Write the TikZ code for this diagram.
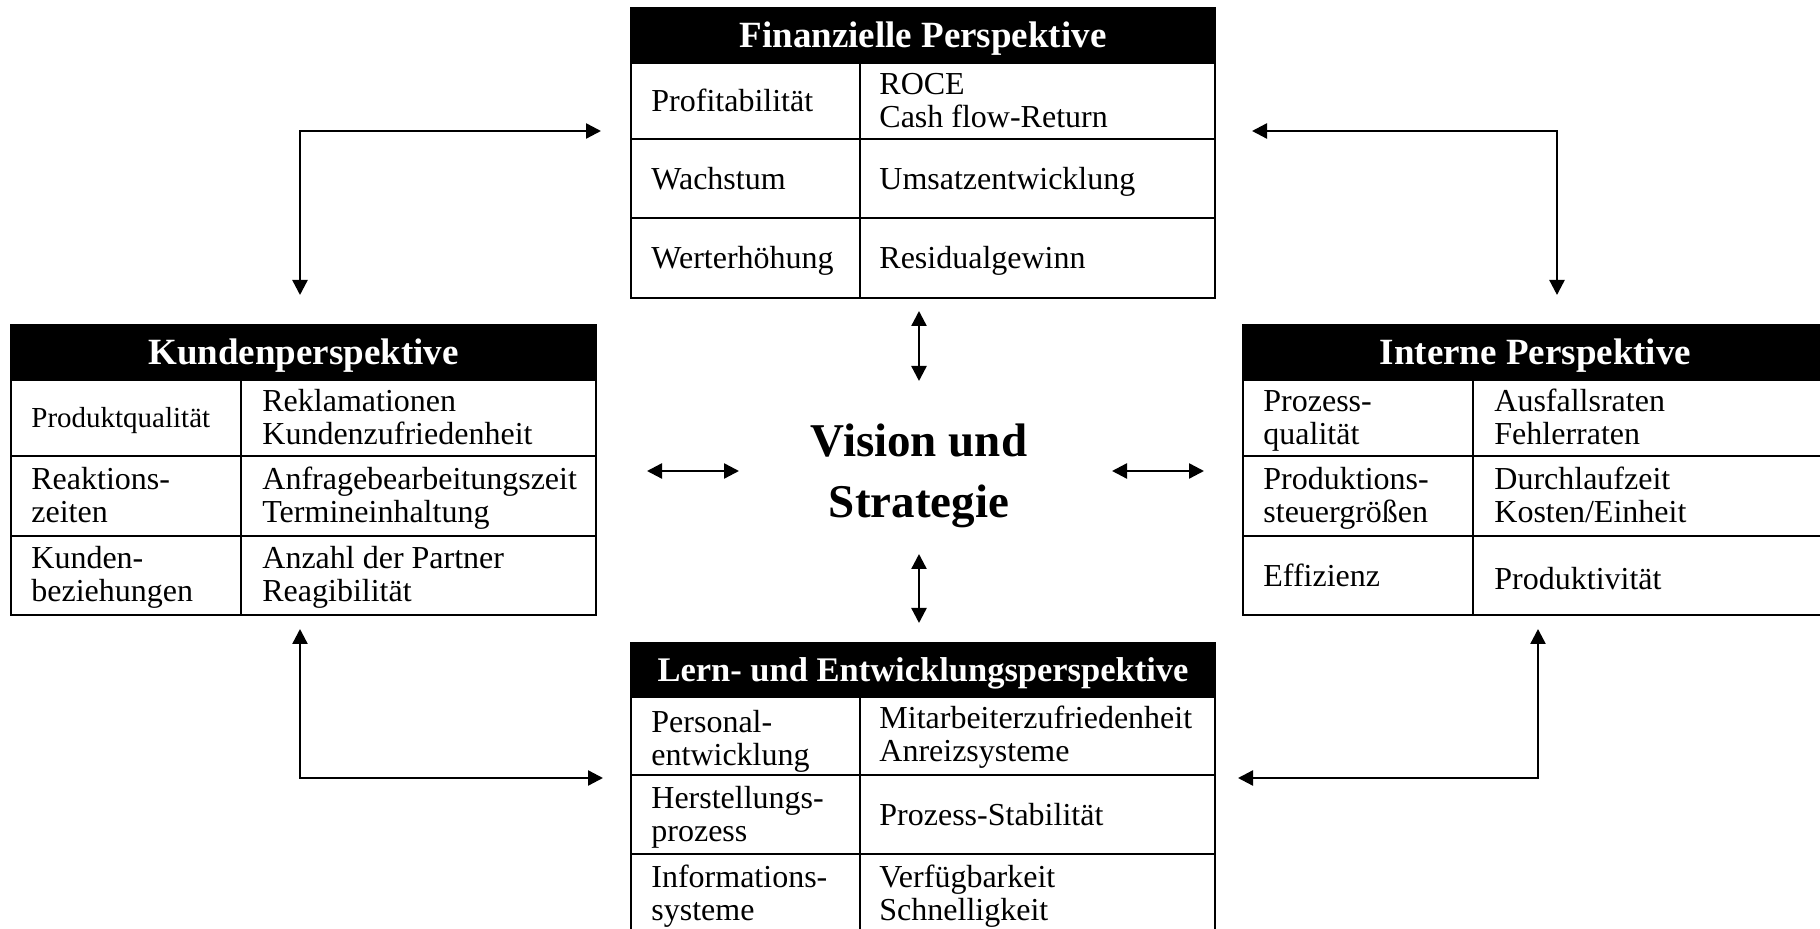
\documentclass[tikz,border=0pt]{standalone}
\usepackage{fontspec}
\setmainfont{Liberation Serif}
\usetikzlibrary{arrows.meta}
\newcommand\mystrut{\rule{0pt}{12pt}}
\begin{document}
\begin{tikzpicture}[x=0.5pt,y=-0.5pt,
  frame/.style={draw=black,line width=1.2pt},
  head/.style={fill=black,draw=black,line width=1.2pt},
  htext/.style={text=white,anchor=base,inner sep=0pt,font=\fontsize{18.5}{20}\selectfont\bfseries},
  cell/.style={anchor=north west,align=left,inner sep=0pt,font=\fontsize{16}{16.5}\selectfont},
  conn/.style={line width=1.2pt,arrows={Triangle[length=7.5pt,width=7.5pt]-Triangle[length=7.5pt,width=7.5pt]}},
]
\useasboundingbox (0,0) rectangle (1820,929);

% ---------- Finanzielle Perspektive ----------
\draw[head] (631,8) rectangle (1215,63);
\draw[frame] (631,8) rectangle (1215,298);
\draw[frame] (631,139) -- (1215,139) (631,218) -- (1215,218) (860,63) -- (860,298);
\node[htext] (fh) at (923,47.5) {Finanzielle Perspektive};
\node[cell] (f1l) at (651,87.5) {\mystrut Profitabilität};
\node[cell] (f1r) at (879,70) {\mystrut ROCE\\Cash flow-Return};
\node[cell] (f2l) at (651,165) {\mystrut Wachstum};
\node[cell] (f2r) at (879,165) {\mystrut Umsatzentwicklung};
\node[cell] (f3l) at (651,244.5) {\mystrut Werterhöhung};
\node[cell] (f3r) at (879,244.5) {\mystrut Residualgewinn};

% ---------- Kundenperspektive ----------
\draw[head] (11,325) rectangle (596,380);
\draw[frame] (11,325) rectangle (596,615);
\draw[frame] (11,456) -- (596,456) (11,536) -- (596,536) (241,380) -- (241,615);
\node[htext] (kh) at (303.5,364.5) {Kundenperspektive};
\node[cell,font=\fontsize{14.5}{15}\selectfont] (k1l) at (31,403.6) {\mystrut Produktqualität};
\node[cell] (k1r) at (262,387) {\mystrut Reklamationen\\Kundenzufriedenheit};
\node[cell] (k2l) at (31,465) {\mystrut Reaktions-\\zeiten};
\node[cell] (k2r) at (262,465) {\mystrut Anfragebearbeitungszeit\\Termineinhaltung};
\node[cell] (k3l) at (31,544.5) {\mystrut Kunden-\\beziehungen};
\node[cell] (k3r) at (262,544.5) {\mystrut Anzahl der Partner\\Reagibilität};

% ---------- Interne Perspektive ----------
\draw[head] (1243,325) rectangle (1828,380);
\draw[frame] (1243,325) rectangle (1828,615);
\draw[frame] (1243,456) -- (1828,456) (1243,536) -- (1828,536) (1473,380) -- (1473,615);
\node[htext] (ih) at (1535.5,364.5) {Interne Perspektive};
\node[cell] (i1l) at (1263,387) {\mystrut Prozess-\\qualität};
\node[cell] (i1r) at (1494,387) {\mystrut Ausfallsraten\\Fehlerraten};
\node[cell] (i2l) at (1263,465) {\mystrut Produktions-\\steuergrößen};
\node[cell] (i2r) at (1494,465) {\mystrut Durchlaufzeit\\Kosten/Einheit};
\node[cell] (i3l) at (1263,562) {\mystrut Effizienz};
\node[cell] (i3r) at (1494,565) {\mystrut Produktivität};

% ---------- Lern- und Entwicklungsperspektive ----------
\draw[head] (631,643) rectangle (1215,697);
\draw[frame] (631,643) rectangle (1215,940);
\draw[frame] (631,775) -- (1215,775) (631,854) -- (1215,854) (860,697) -- (860,940);
\node[htext,font=\fontsize{17.25}{19}\selectfont\bfseries] (lh) at (923,681.4) {Lern- und Entwicklungsperspektive};
\node[cell] (l1l) at (651,708) {\mystrut Personal-\\entwicklung};
\node[cell] (l1r) at (879,704) {\mystrut Mitarbeiterzufriedenheit\\Anreizsysteme};
\node[cell] (l2l) at (651,784.5) {\mystrut Herstellungs-\\prozess};
\node[cell] (l2r) at (879,801) {\mystrut Prozess-Stabilität};
\node[cell] (l3l) at (651,863.5) {\mystrut Informations-\\systeme};
\node[cell] (l3r) at (879,863.5) {\mystrut Verfügbarkeit\\Schnelligkeit};

% ---------- Vision und Strategie ----------
\node[font=\fontsize{23.5}{30.25}\selectfont\bfseries,align=center,inner sep=0pt] (vs) at (919,476) {Vision und\\Strategie};

% ---------- central arrows ----------
\coordinate (vt1) at (919,311); \coordinate (vt2) at (919,381);
\coordinate (vb1) at (919,554); \coordinate (vb2) at (919,623);
\coordinate (hl1) at (647,471); \coordinate (hl2) at (739,471);
\coordinate (hr1) at (1112,471); \coordinate (hr2) at (1204,471);
\draw[conn] (vt1) -- (vt2);
\draw[conn] (vb1) -- (vb2);
\draw[conn] (hl1) -- (hl2);
\draw[conn] (hr1) -- (hr2);

% ---------- corner arrows ----------
\coordinate (tlA) at (601,131); \coordinate (tlB) at (300,295);
\coordinate (trA) at (1252,131); \coordinate (trB) at (1557,295);
\coordinate (blA) at (300,629); \coordinate (blB) at (603,778);
\coordinate (brA) at (1538,629); \coordinate (brB) at (1238,778);
\draw[conn,line join=miter] (tlA) -| (tlB);
\draw[conn,line join=miter] (trA) -| (trB);
\draw[conn,line join=miter] (blA) |- (blB);
\draw[conn,line join=miter] (brA) |- (brB);
\end{tikzpicture}
\end{document}
